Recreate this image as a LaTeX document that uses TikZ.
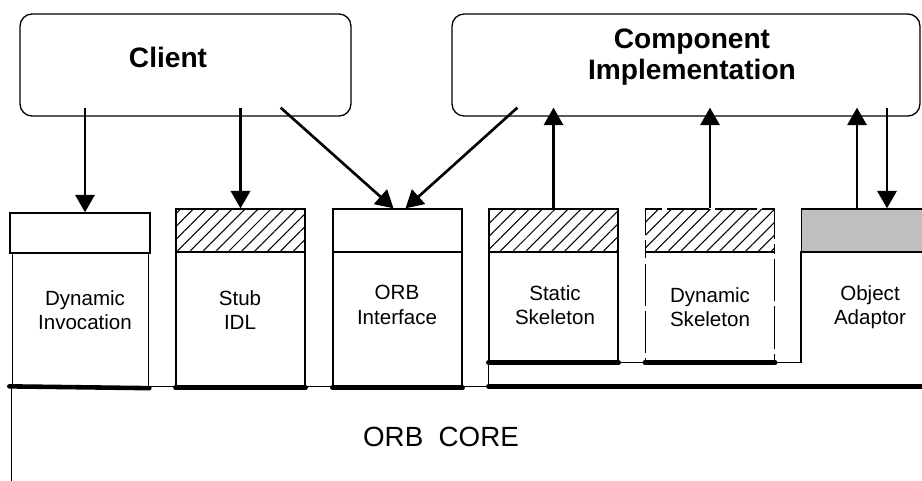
\documentclass[tikz,border=0pt]{standalone}
\usepackage{fontspec}
\setmainfont{Liberation Sans}
\usetikzlibrary{arrows.meta,patterns.meta,calc}

\begin{document}
\begin{tikzpicture}[x=0.02cm, y=-0.02cm, line width=0.75pt,
        upper/.style = {draw, rounded corners=0.24cm, inner sep=0pt, minimum height=2.04cm},
        title/.style = {font=\fontsize{16}{18}\selectfont\bfseries, align=center},
        lid/.style = {draw, minimum width=2.58cm, minimum height=0.86cm, inner sep=0pt},
        hatch/.style = {pattern={Lines[angle=45, distance=5.2pt, line width=0.6pt]}},
        body/.style = {draw, minimum width=2.58cm, minimum height=2.7cm, inner sep=0pt},
        lbl/.style = {font=\fontsize{11.7}{14}\selectfont, align=center},
        bar/.style = {line width=2.6pt, line cap=round},
        arr/.style = {-{Triangle[length=10pt, width=11pt]}, line width=1.5pt}]
        \useasboundingbox (0,0) rectangle (922,480);
        % client and implementation
        \node[upper, minimum width=6.62cm] (client) at (185.5,65) {};
        \node[title] (clientlbl) at (168,57) {Client};
        \node[upper, minimum width=9.36cm] (impl) at (686,65) {};
        \node[title] (impllbl) at (692,57) {Component\\Implementation};
        % tops of the boxes
        \node[lid, minimum width=2.8cm, minimum height=0.8cm] (lid1) at (80,233) {};
        \node[lid, hatch] (lid2) at (240.5,230.5) {};
        \node[lid] (lid3) at (397.5,230.5) {};
        \node[lid, hatch] (lid4) at (553.5,230.5) {};
        \node[lid, hatch, dash pattern=on 24pt off 3pt] (lid5) at (710,230.5) {};
        \node[lid, fill=gray!50] (lid6) at (866,230.5) {};
        % boxes
        \node[body, minimum width=2.72cm] (box1) at (80.7,320) {};
        \node[body] (box2) at (240.5,319.5) {};
        \node[body] (box3) at (397.5,319.5) {};
        \node[body, minimum height=2.2cm] (box4) at (553.5,307) {};
        \node[body, minimum height=2.2cm, dash pattern=on 24pt off 3pt] (box5) at (710,307) {};
        \node[body, minimum height=2.2cm, draw=none] (box6) at (866,307) {};
        \node[lbl] (t1) at (85,310) {Dynamic\\Invocation};
        \node[lbl] (t2) at (240,310) {Stub\\IDL};
        \node[lbl] (t3) at (397,305) {ORB\\Interface};
        \node[lbl] (t4) at (555,305) {Static\\Skeleton};
        \node[lbl] (t5) at (710,307) {Dynamic\\Skeleton};
        \node[lbl] (t6) at (870,307) {Object\\Adaptor};
        % core
        \node[minimum width=18.36cm, minimum height=4cm, inner sep=0pt] (core) at (471,487) {};
        \node (corelbl) at (441,437) {\fontsize{15.8}{18}\selectfont ORB\ \ CORE};
        \draw (core.north west) -- (core.north east);
        \draw (core.north west) -- (core.south west);
        \draw (box4.south west) -- (box4.south west |- core.north);
        \draw (box4.south west) -- (box6.south west) -- (box6.north west);
        \draw[bar] (lid1.west |- core.north) -- (box1.south east);
        \draw[bar] (box2.south west) -- (box2.south east);
        \draw[bar] (box3.south west) -- (box3.south east);
        \draw[bar] (box4.south west |- core.north) -- (core.north east);
        \draw[bar] (box4.south west) -- (box4.south east);
        \draw[bar] (box5.south west) -- (box5.south east);
        % calls
        \draw[arr] ($(lid1.north |- client.south)+(5,-9)$) -- ($(lid1.north)+(5,0)$);
        \draw[arr] ($(lid2.north |- client.south)+(0,-9)$) -- (lid2.north);
        \draw[arr] ($(client.south east)+(-71,-9)$) -- ($(lid3.north)+(-4,0)$);
        \draw[arr] ($(impl.south west)+(66,-9)$) -- ($(lid3.north)+(8,0)$);
        \draw[arr] (lid4.north) -- ($(lid4.north |- impl.south)+(0,-9)$);
        \draw[arr] (lid5.north) -- ($(lid5.north |- impl.south)+(0,-9)$);
        \draw[arr] ($(lid6.north)+(-9,0)$) -- ($(lid6.north |- impl.south)+(-9,-9)$);
        \draw[arr] ($(lid6.north |- impl.south)+(21,-9)$) -- ($(lid6.north)+(21,0)$);
\end{tikzpicture}
\end{document}
